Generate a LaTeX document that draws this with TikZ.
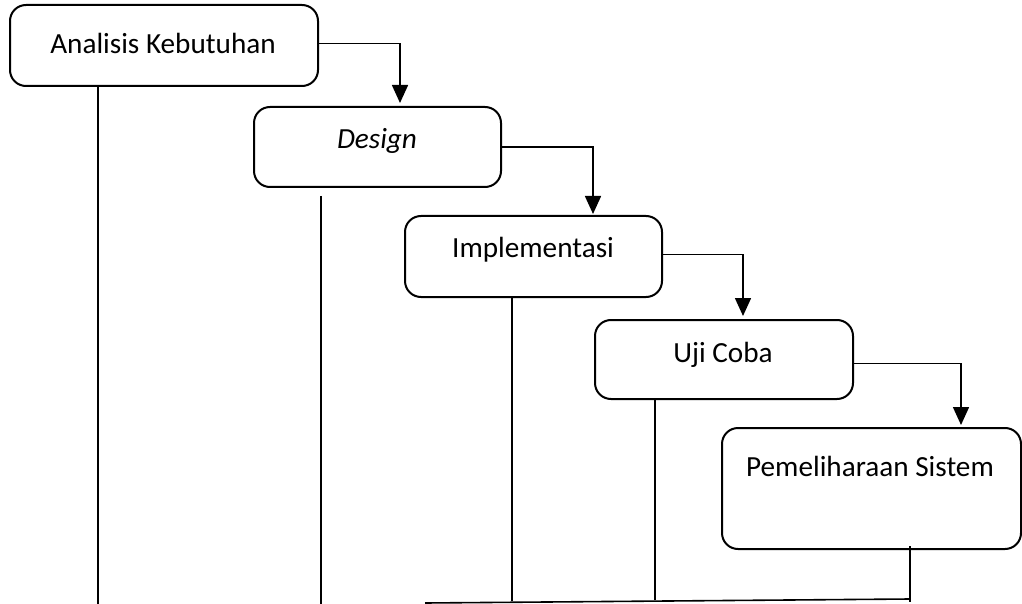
\documentclass[tikz,border=0pt]{standalone}
\usepackage{fontspec}
\setmainfont{Carlito}
\usetikzlibrary{arrows.meta}

\tikzset{
  stage/.style={draw, line width=1pt, rounded corners=8pt, inner sep=0pt},
  lbl/.style={font=\fontsize{14.6}{17}\selectfont, inner sep=0pt},
  flow/.style={line width=0.8pt, -{Triangle[width=8pt,length=9pt]}},
  drop/.style={line width=0.8pt}
}

\begin{document}
\begin{tikzpicture}[x=0.5pt, y=-0.5pt]
            \useasboundingbox (0,0) rectangle (1022,604);
            % stages
            \node[stage, minimum width=154pt, minimum height=40.5pt] (analisis) at (164,45.5) {};
            \node[stage, minimum width=123.5pt, minimum height=40pt] (design) at (377.5,147) {};
            \node[stage, minimum width=128.5pt, minimum height=40.5pt] (implementasi) at (533.5,256.5) {};
            \node[stage, minimum width=129pt, minimum height=39.5pt] (ujicoba) at (724,359.5) {};
            \node[stage, minimum width=149.5pt, minimum height=60.5pt] (pemeliharaan) at (871.5,488.5) {};
            \node[lbl] at (163,43) {Analisis Kebutuhan};
            \node[lbl] at (377,141) {\itshape Design};
            \node[lbl] at (533,250) {Implementasi};
            \node[lbl] at (723,355) {Uji Coba};
            \node[lbl] at (870,466) {Pemeliharaan Sistem};
            % arrows to the next stage
            \coordinate (toDesign) at (400,103);
            \coordinate (toImpl) at (593,214);
            \coordinate (toUji) at (743,316);
            \coordinate (toPem) at (961,425);
            \draw[flow] ([yshift=1pt]analisis.east) -| (toDesign);
            \draw[flow] (design.east) -| (toImpl);
            \draw[flow] ([yshift=1pt]implementasi.east) -| (toUji);
            \draw[flow] ([yshift=-2pt]ujicoba.east) -| (toPem);
            % feedback lines at the bottom
            \coordinate (b1) at (98,604);
            \coordinate (b2) at (321,604);
            \coordinate (b3) at (512,601);
            \coordinate (b4) at (655,600);
            \coordinate (b5) at (910,599);
            \coordinate (b0) at (425,603);
            \draw[drop] (analisis.south -| b1) -- (b1);
            \draw[drop] ([yshift=-4pt]design.south -| b2) -- (b2);
            \draw[drop] (implementasi.south -| b3) -- (b3);
            \draw[drop] (ujicoba.south -| b4) -- (b4);
            \draw[drop] ([yshift=2pt]pemeliharaan.south -| b5) -- ([yshift=-1.5pt]b5);
            \draw[drop] (b0) -- (b5);
        \end{tikzpicture}
\end{document}
